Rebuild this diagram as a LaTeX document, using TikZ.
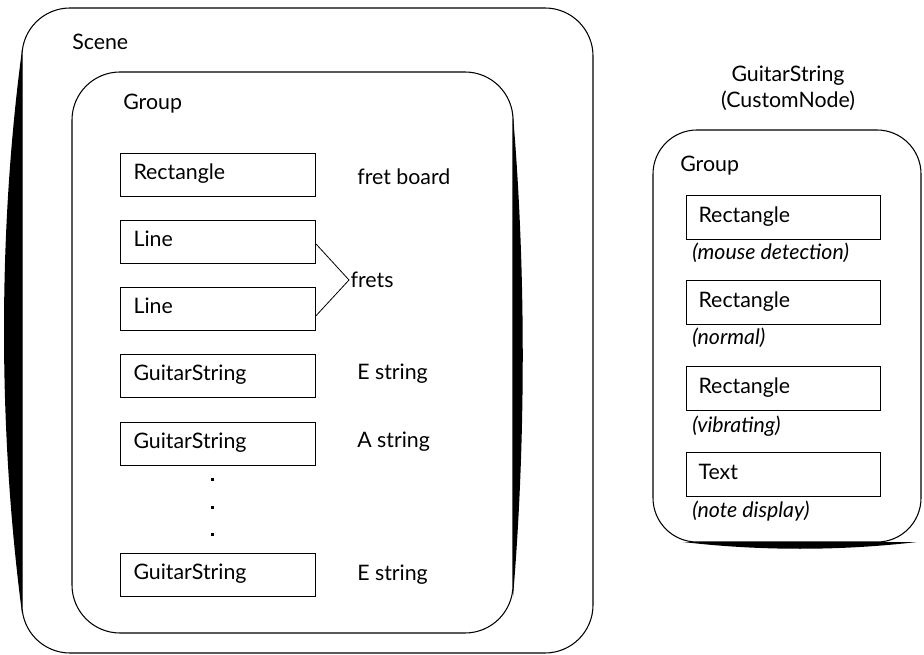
\documentclass[tikz,border=0pt]{standalone}
\usepackage{fontspec}
\setmainfont{Lato}
\begin{document}
\begin{tikzpicture}[x=0.75pt,y=-0.75pt,
  font=\fontsize{16pt}{19pt}\selectfont,
  frame/.style={draw,line width=0.8pt,rounded corners=36pt},
  boxL/.style={draw,line width=0.8pt,anchor=north west,minimum width=146.25pt,minimum height=32.25pt,
    text width=126.75pt,align=left,inner xsep=9.75pt,text height=11.5pt,text depth=4.5pt},
  boxR/.style={draw,line width=0.8pt,anchor=north west,minimum width=145.5pt,minimum height=33pt,
    text width=127.5pt,align=left,inner xsep=9pt,text height=11.5pt,text depth=4.5pt},
  lbl/.style={anchor=base west,inner sep=0pt},
  note/.style={anchor=base west,inner sep=0pt,font=\fontsize{16pt}{19pt}\selectfont\itshape},
  tick/.style={fill=black}]
\useasboundingbox (0,0) rectangle (924,655);
% Scene frame
\draw[frame] (22,8) rectangle (593,653);
\fill (22,50) .. controls (-2,230) and (-2,430) .. (22,613) -- cycle;
\node[lbl] (scenelbl) at (72,50) {Scene};
% inner group
\draw[frame] (72,72) rectangle (513,633);
\fill (513,115) .. controls (526,270) and (526,440) .. (513,597) -- cycle;
\node[lbl] (grouplbl) at (123,110) {Group};
% boxes
\node[boxL] (rect) at (120,153) {Rectangle};
\node[boxL] (line1) at (120,220) {Line};
\node[boxL] (line2) at (120,287) {Line};
\node[boxL] (gs1) at (120,354) {GuitarString};
\node[boxL] (gs2) at (120,422) {GuitarString};
\node[boxL] (gs3) at (120,553) {GuitarString};
\fill[tick] (210.5,477.5) rectangle (213.5,480.5);
\fill[tick] (210.5,505.5) rectangle (213.5,508.5);
\fill[tick] (210.5,532.5) rectangle (213.5,535.5);
% labels
\node[lbl] (fretboard) at (357,185) {fret board};
\node[anchor=west,inner sep=0pt] (frets) at (349,280) {\hspace{1pt}frets};
\draw[line width=0.6pt] (line1.east) ++(0,2) -- (frets.west) -- ([yshift=-5pt]line2.east);
\node[lbl] (estr1) at (357,380) {E string};
\node[lbl] (astr) at (357,448) {A string};
\node[lbl] (estr2) at (357,580) {E string};
% right side
\node[anchor=base,inner sep=0pt] (gstitle) at (788,82) {GuitarString};
\node[anchor=base,inner sep=0pt] (cnode) at (788,108) {(CustomNode)};
\draw[frame,rounded corners=33pt] (653,130) rectangle (921,542);
\fill (683,542) .. controls (760,551) and (840,551) .. (917,542) -- cycle;
\node[lbl] (group2lbl) at (680,172) {Group};
\node[boxR] (r1) at (686,195) {Rectangle};
\node[note] (n1) at (692,260) {(mouse detection)};
\node[boxR] (r2) at (686,280) {Rectangle};
\node[note] (n2) at (692,345) {(normal)};
\node[boxR] (r3) at (686,366) {Rectangle};
\node[note] (n3) at (692,433) {(vibrating)};
\node[boxR] (t1) at (686,452) {Text};
\node[note] (n4) at (692,517) {(note display)};
\end{tikzpicture}
\end{document}
